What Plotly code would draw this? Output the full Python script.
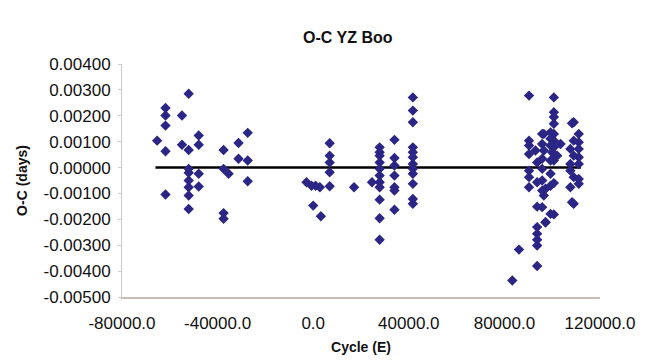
import plotly.graph_objects as go

# O-C data: cycle (E) and O-C (days)
cycle_E = [
    -65300, -61800, -61800, -61800, -61800, -61800, -54900, -54900,
    -52100, -52100, -52100, -52100, -52100, -52100, -52100, -52100,
    -47900, -47900, -47900, -47900,
    -37500, -37500, -35400, -37500, -37500, -31250, -31250, -27400, -27400, -27400,
    -2800, -700, 1000, 2800, 0, 3200,
    6900, 6900, 6900, 6900, 6900, 17100, 24600,
    27800, 27800, 27800, 27800, 27800, 27800, 27800, 27800, 27800, 27800, 27800,
    34000, 34000, 34000, 34000, 34000, 34000, 34000,
    41700, 41700, 41700, 41700, 41700, 41700, 41700, 41700, 41700, 41700, 41700, 41700,
    83300, 86100,
    90300, 90300, 90300, 90300, 90300, 90300, 90300,
    93000, 93700, 93700, 93700, 93700, 93700, 93700, 93700, 93700,
    96500, 96500, 97200, 97200,
    100700, 100700, 100700, 100700, 100700, 100700, 100700, 100700, 100700, 100700, 100700,
    95800, 99300, 99300, 95800, 99300, 103500, 96500, 100000, 102100, 95800, 99300,
    95800, 99300, 95800, 99300, 95800, 95800, 99300, 97200,
    109000, 111100, 109000, 111100, 107600, 111100, 109000, 111100, 107600, 111100,
    107600, 109000, 111100, 107600, 109000, 108300, 108300, 111100,
]
oc_days = [
    0.00104, 0.00230, 0.00201, 0.00162, 0.00063, -0.00104, 0.00201, 0.00088,
    0.00285, 0.00068, -0.00005, -0.00020, -0.00050, -0.00076, -0.00108, -0.00160,
    0.00124, 0.00088, -0.00024, -0.00073,
    0.00068, -0.00005, -0.00024, -0.00176, -0.00198, 0.00095, 0.00034, 0.00134, 0.00027, -0.00053,
    -0.00057, -0.00070, -0.00070, -0.00076, -0.00147, -0.00188,
    0.00094, 0.00046, 0.00020, -0.00018, -0.00072, -0.00076, -0.00057,
    0.00078, 0.00059, 0.00046, 0.00020, -0.00005, -0.00031, -0.00057, -0.00076, -0.00124, -0.00196, -0.00279,
    0.00107, 0.00037, 0.00008, -0.00031, -0.00076, -0.00089, -0.00163,
    0.00271, 0.00220, 0.00175, 0.00078, 0.00059, 0.00040, 0.00014, -0.00005, -0.00024, -0.00063, -0.00121, -0.00140,
    -0.00436, -0.00317,
    0.00278, 0.00104, 0.00085, 0.00052, -0.00012, -0.00037, -0.00076,
    0.00066, 0.00020, -0.00057, -0.00151, -0.00230, -0.00256, -0.00279, -0.00301, -0.00380,
    0.00130, -0.00108, -0.00211, -0.00082,
    0.00271, 0.00214, 0.00195, 0.00169, 0.00130, 0.00104, 0.00078, 0.00053, 0.00027, -0.00060, -0.00181,
    0.00130, 0.00136, 0.00111, 0.00091, 0.00085, 0.00091, 0.00066, 0.00059, 0.00046, 0.00034, 0.00027,
    -0.00005, -0.00024, -0.00050, -0.00070, -0.00089, -0.00153, -0.00179, -0.00211,
    0.00175, 0.00130, 0.00104, 0.00098, 0.00072, 0.00072, 0.00046, 0.00040, 0.00014, 0.00014,
    -0.00012, -0.00037, -0.00044, -0.00076, -0.00140, 0.00171, -0.00134, -0.00063,
]

# zero reference line
line_E = [-66000, 112000]
line_oc = [0.0, 0.0]

x_ticks = [-80000, -40000, 0, 40000, 80000, 120000]
x_ticktext = ["-80000.0", "-40000.0", "0.0", "40000.0", "80000.0", "120000.0"]
y_ticks = [0.004, 0.003, 0.002, 0.001, 0.0, -0.001, -0.002, -0.003, -0.004, -0.005]
y_ticktext = ["0.00400", "0.00300", "0.00200", "0.00100", "0.00000",
              "-0.00100", "-0.00200", "-0.00300", "-0.00400", "-0.00500"]

FONT = "Liberation Sans, Arial, sans-serif"

fig = go.Figure()
fig.add_trace(go.Scatter(
    x=line_E, y=line_oc, mode="lines",
    line=dict(color="black", width=2.5), hoverinfo="skip", showlegend=False,
))
fig.add_trace(go.Scatter(
    x=cycle_E, y=oc_days, mode="markers",
    marker=dict(symbol="diamond", size=8, color="#2b2585"),
    showlegend=False,
))

fig.update_layout(
    width=650, height=364,
    margin=dict(l=122, r=50, t=64, b=67),
    paper_bgcolor="white", plot_bgcolor="white",
    font=dict(family=FONT, color="#111111"),
    title=dict(text="<b>O-C YZ Boo</b>", x=0.535, xanchor="center",
               y=0.898, yanchor="middle", font=dict(size=16, family=FONT)),
)
fig.update_xaxes(
    range=[-80000, 120000], tickvals=x_ticks, ticktext=x_ticktext,
    showgrid=False, zeroline=False, showline=True, linecolor="#c9bdb5", linewidth=1.5,
    ticks="", tickfont=dict(size=17), ticklabelstandoff=10,
    title=dict(text="<b>Cycle (E)</b>", font=dict(size=14), standoff=10),
)
fig.update_yaxes(
    range=[-0.005, 0.004], tickvals=y_ticks, ticktext=y_ticktext,
    showgrid=False, zeroline=False, showline=True, linecolor="#d0c8c4", linewidth=1,
    ticks="outside", ticklen=3, tickcolor="#d0c8c4", tickfont=dict(size=17),
    ticklabelstandoff=4,
    title=dict(text="<b>O-C (days)</b>", font=dict(size=14), standoff=12),
)

fig.write_html("out.html")
